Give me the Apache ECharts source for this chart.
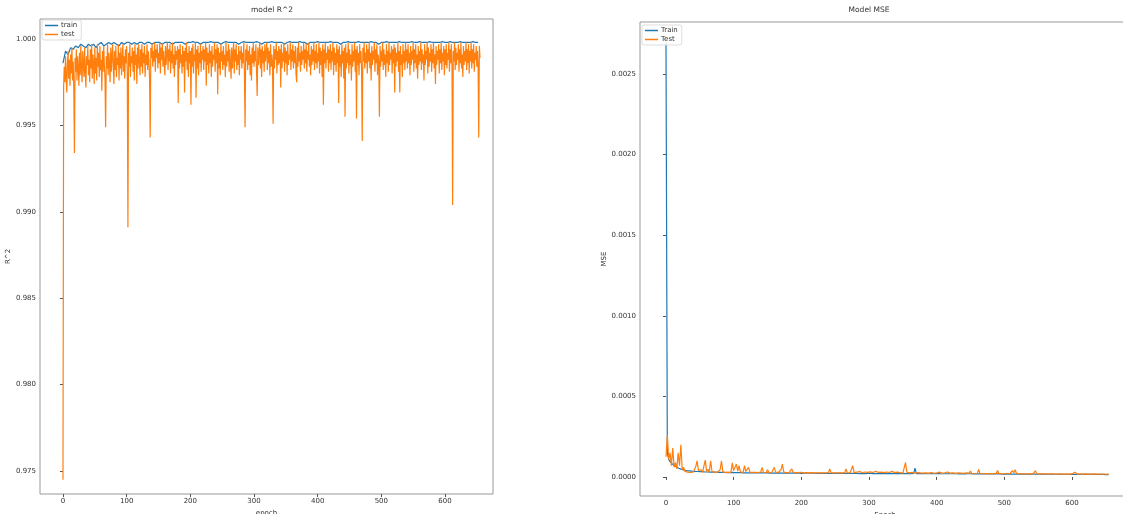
<!DOCTYPE html>
<html>
<head>
<meta charset="utf-8">
<script src="https://cdn.jsdelivr.net/npm/echarts@6/dist/echarts.min.js"></script>
<style>html,body{margin:0;padding:0;background:#fff}#c{width:1123px;height:514px}</style>
</head>
<body>
<div id="c"></div>
<script>
// ---- data ----
// test R^2, one value per epoch (0..655)
const testR2 = [
0.9745,0.9972,0.9984,0.9975,0.9990,0.9978,0.9969,0.9986,0.9993,0.9977,0.9988,0.9973,0.9991,0.9980,0.9995,0.9976,0.9987,0.9971,0.9934,0.9989,
0.9981,0.9994,0.9976,0.9990,0.9984,0.9973,0.9992,0.9979,0.9996,0.9982,0.9975,0.9993,0.9986,0.9978,0.9995,0.9981,0.9972,0.9990,0.9985,0.9996,
0.9979,0.9988,0.9975,0.9994,0.9983,0.9997,0.9977,0.9991,0.9986,0.9974,0.9995,0.9980,0.9989,0.9976,0.9997,0.9984,0.9992,0.9978,0.9996,0.9982,
0.9988,0.9970,0.9993,0.9981,0.9996,0.9985,0.9977,0.9949,0.9990,0.9983,0.9997,0.9979,0.9992,0.9986,0.9975,0.9995,0.9981,0.9990,0.9997,0.9984,
0.9974,0.9993,0.9982,0.9996,0.9978,0.9989,0.9985,0.9997,0.9976,0.9992,0.9983,0.9995,0.9979,0.9988,0.9997,0.9981,0.9990,0.9977,0.9994,0.9986,
0.9996,0.9980,0.9891,0.9992,0.9984,0.9997,0.9978,0.9990,0.9986,0.9995,0.9981,0.9993,0.9976,0.9997,0.9985,0.9991,0.9974,0.9995,0.9983,0.9997,
0.9987,0.9979,0.9994,0.9984,0.9997,0.9980,0.9992,0.9986,0.9996,0.9978,0.9991,0.9985,0.9997,0.9982,0.9993,0.9988,0.9977,0.9943,0.9995,0.9989,
0.9997,0.9984,0.9993,0.9987,0.9998,0.9981,0.9994,0.9989,0.9997,0.9983,0.9992,0.9986,0.9998,0.9980,0.9995,0.9988,0.9997,0.9984,0.9993,0.9986,
0.9979,0.9996,0.9985,0.9992,0.9998,0.9982,0.9994,0.9987,0.9997,0.9980,0.9993,0.9986,0.9998,0.9983,0.9991,0.9978,0.9996,0.9985,0.9993,0.9988,
0.9996,0.9963,0.9994,0.9983,0.9997,0.9986,0.9991,0.9980,0.9996,0.9984,0.9993,0.9969,0.9995,0.9987,0.9998,0.9982,0.9992,0.9978,0.9996,0.9986,
0.9993,0.9962,0.9995,0.9984,0.9997,0.9980,0.9991,0.9987,0.9998,0.9966,0.9994,0.9983,0.9996,0.9979,0.9992,0.9986,0.9997,0.9981,0.9993,0.9988,
0.9996,0.9982,0.9994,0.9987,0.9998,0.9973,0.9995,0.9985,0.9992,0.9980,0.9997,0.9986,0.9993,0.9978,0.9996,0.9984,0.9991,0.9988,0.9998,0.9981,
0.9994,0.9986,0.9997,0.9968,0.9995,0.9983,0.9992,0.9979,0.9997,0.9987,0.9993,0.9982,0.9996,0.9985,0.9991,0.9978,0.9998,0.9984,0.9993,0.9987,
0.9997,0.9981,0.9994,0.9986,0.9977,0.9995,0.9983,0.9992,0.9998,0.9980,0.9994,0.9987,0.9997,0.9982,0.9991,0.9985,0.9996,0.9979,0.9993,0.9988,
0.9996,0.9983,0.9992,0.9986,0.9998,0.9980,0.9949,0.9994,0.9987,0.9997,0.9982,0.9993,0.9985,0.9996,0.9979,0.9991,0.9976,0.9995,0.9986,0.9998,
0.9984,0.9993,0.9987,0.9997,0.9981,0.9967,0.9995,0.9985,0.9992,0.9998,0.9983,0.9994,0.9978,0.9996,0.9986,0.9993,0.9981,0.9997,0.9987,0.9992,
0.9998,0.9982,0.9995,0.9986,0.9993,0.9979,0.9997,0.9984,0.9991,0.9987,0.9951,0.9996,0.9983,0.9994,0.9988,0.9998,0.9980,0.9993,0.9985,0.9996,
0.9986,0.9994,0.9972,0.9997,0.9983,0.9992,0.9987,0.9998,0.9981,0.9995,0.9986,0.9993,0.9979,0.9997,0.9985,0.9991,0.9988,0.9998,0.9982,0.9994,
0.9987,0.9997,0.9983,0.9993,0.9986,0.9996,0.9980,0.9975,0.9995,0.9984,0.9998,0.9987,0.9992,0.9981,0.9996,0.9985,0.9993,0.9988,0.9998,0.9983,
0.9994,0.9986,0.9997,0.9981,0.9993,0.9988,0.9998,0.9984,0.9991,0.9979,0.9996,0.9985,0.9994,0.9987,0.9998,0.9982,0.9993,0.9986,0.9997,0.9983,
0.9992,0.9987,0.9998,0.9980,0.9995,0.9985,0.9993,0.9978,0.9997,0.9962,0.9994,0.9986,0.9998,0.9983,0.9992,0.9988,0.9996,0.9981,0.9994,0.9986,
0.9997,0.9982,0.9993,0.9987,0.9998,0.9979,0.9995,0.9985,0.9992,0.9981,0.9997,0.9986,0.9994,0.9963,0.9996,0.9984,0.9991,0.9978,0.9997,0.9986,
0.9993,0.9977,0.9995,0.9955,0.9997,0.9983,0.9992,0.9986,0.9998,0.9980,0.9994,0.9985,0.9991,0.9976,0.9997,0.9984,0.9993,0.9987,0.9998,0.9981,
0.9994,0.9954,0.9996,0.9985,0.9992,0.9979,0.9997,0.9986,0.9993,0.9982,0.9941,0.9995,0.9987,0.9998,0.9983,0.9992,0.9986,0.9997,0.9980,0.9994,
0.9987,0.9998,0.9983,0.9992,0.9976,0.9996,0.9985,0.9993,0.9988,0.9998,0.9981,0.9994,0.9986,0.9997,0.9979,0.9991,0.9987,0.9955,0.9996,0.9984,
0.9993,0.9987,0.9998,0.9982,0.9994,0.9985,0.9991,0.9978,0.9997,0.9986,0.9993,0.9981,0.9998,0.9985,0.9992,0.9988,0.9996,0.9980,0.9994,0.9986,
0.9997,0.9969,0.9995,0.9984,0.9992,0.9987,0.9998,0.9981,0.9993,0.9969,0.9996,0.9985,0.9991,0.9978,0.9997,0.9986,0.9993,0.9982,0.9998,0.9987,
0.9994,0.9983,0.9997,0.9986,0.9992,0.9979,0.9996,0.9985,0.9993,0.9988,0.9998,0.9981,0.9994,0.9986,0.9997,0.9983,0.9991,0.9977,0.9996,0.9985,
0.9993,0.9987,0.9998,0.9982,0.9994,0.9986,0.9991,0.9976,0.9997,0.9985,0.9993,0.9988,0.9998,0.9980,0.9995,0.9984,0.9992,0.9987,0.9997,0.9981,
0.9994,0.9986,0.9998,0.9983,0.9991,0.9974,0.9996,0.9985,0.9993,0.9988,0.9997,0.9980,0.9994,0.9986,0.9998,0.9982,0.9992,0.9987,0.9996,0.9979,
0.9994,0.9985,0.9997,0.9983,0.9992,0.9988,0.9998,0.9981,0.9994,0.9986,0.9997,0.9984,0.9904,0.9993,0.9987,0.9998,0.9982,0.9995,0.9985,0.9992,
0.9988,0.9997,0.9981,0.9994,0.9986,0.9998,0.9983,0.9991,0.9978,0.9996,0.9985,0.9993,0.9987,0.9998,0.9982,0.9994,0.9986,0.9997,0.9980,0.9993,
0.9987,0.9998,0.9983,0.9994,0.9986,0.9997,0.9981,0.9992,0.9988,0.9996,0.9984,0.9993,0.9985,0.9943,0.9996,0.9989
];
const testR2Step = 1;

// train R^2, one value every 4 epochs (0..652)
const trainR2 = [
0.9986,0.9993,0.9991,0.9995,0.9994,0.9996,0.9995,0.9997,0.9996,0.9995,
0.9997,0.9996,0.9997,0.9995,0.9997,0.9998,0.9996,0.9997,0.9998,0.9997,
0.9998,0.9997,0.9996,0.9998,0.9997,0.9998,0.9998,0.9997,0.9998,0.9997,
0.9998,0.9998,0.9997,0.9998,0.9998,0.9997,0.9998,0.9998,0.9998,0.9997,
0.9998,0.9998,0.9998,0.9997,0.9998,0.9998,0.9998,0.9998,0.9997,0.9998,
0.9998,0.99985,0.9998,0.9998,0.9997,0.9998,0.9998,0.9998,0.99985,0.9998,
0.9998,0.9998,0.9997,0.9998,0.99985,0.9998,0.9998,0.9998,0.9998,0.9997,
0.9998,0.99985,0.9998,0.9998,0.9998,0.9998,0.99985,0.9998,0.9997,0.9998,
0.9998,0.9998,0.99985,0.9998,0.9998,0.9998,0.9998,0.9997,0.9998,0.99985,
0.9998,0.9998,0.9998,0.99985,0.9998,0.9998,0.9997,0.9998,0.9998,0.9998,
0.99985,0.9998,0.9998,0.9998,0.9998,0.99985,0.9998,0.9998,0.9998,0.9997,
0.9998,0.9998,0.99985,0.9998,0.9998,0.9998,0.99985,0.9998,0.9998,0.9998,
0.9998,0.99985,0.9998,0.9998,0.9997,0.9998,0.9998,0.99985,0.9998,0.9998,
0.9998,0.9998,0.99985,0.9998,0.9998,0.9998,0.9998,0.99985,0.9998,0.9998,
0.99985,0.9998,0.9998,0.9998,0.99985,0.9998,0.9998,0.9998,0.9998,0.99985,
0.9998,0.9998,0.99985,0.9998,0.9998,0.9998,0.99985,0.9998,0.9998,0.9998,
0.9998,0.99985,0.9998,0.9998
];
const trainR2Step = 4;

// train MSE, one value every 2 epochs (0..654)
const trainMSE = [
0.0027,0.00015,0.00011,0.000095,0.000085,0.000078,0.00007,0.000066,0.00006,0.000056,
0.000052,0.000049,0.000046,0.000044,0.000042,0.00004,0.000039,0.000038,0.000037,0.000036,
0.000035,0.000035,0.000034,0.000034,0.000033,0.000033,0.000032,0.000033,0.000032,0.000031,
0.000031,0.000031,0.00003,0.00003,0.000031,0.00003,0.000029,0.00003,0.000029,0.000029,
0.000029,0.000028,0.000029,0.000028,0.000028,0.000027,0.000028,0.000027,0.000027,0.000028,
0.000027,0.000027,0.000026,0.000027,0.000026,0.000027,0.000026,0.000026,0.000027,0.000026,
0.000026,0.000026,0.000025,0.000026,0.000026,0.000025,0.000026,0.000025,0.000025,0.000026,
0.000025,0.000025,0.000026,0.000025,0.000024,0.000025,0.000025,0.000024,0.000025,0.000024,
0.000025,0.000024,0.000024,0.000025,0.000024,0.000024,0.000025,0.000024,0.000024,0.000024,
0.000024,0.000024,0.000023,0.000024,0.000024,0.000024,0.000023,0.000024,0.000024,0.000023,
0.000024,0.000023,0.000023,0.000024,0.000023,0.000023,0.000023,0.000024,0.000023,0.000023,
0.000023,0.000022,0.000023,0.000023,0.000022,0.000023,0.000023,0.000022,0.000023,0.000022,
0.000023,0.000022,0.000022,0.000023,0.000022,0.000022,0.000023,0.000022,0.000022,0.000022,
0.000022,0.000023,0.000022,0.000022,0.000022,0.000022,0.000023,0.000022,0.000022,0.000022,
0.000022,0.000022,0.000022,0.000021,0.000022,0.000022,0.000022,0.000021,0.000022,0.000022,
0.000021,0.000022,0.000022,0.000021,0.000022,0.000021,0.000022,0.000021,0.000021,0.000022,
0.000021,0.000021,0.000022,0.000021,0.000021,0.000022,0.000021,0.000021,0.000021,0.000021,
0.000022,0.000021,0.000021,0.000021,0.000021,0.000022,0.000021,0.000021,0.000021,0.000021,
0.000021,0.000021,0.00002,0.000022,0.000055,0.000021,0.00002,0.000021,0.00002,0.000021,
0.00002,0.000021,0.00002,0.00002,0.000021,0.00002,0.00002,0.000021,0.00002,0.00002,
0.00002,0.000021,0.00002,0.00002,0.00002,0.00002,0.000021,0.00002,0.00002,0.00002,
0.00002,0.00002,0.00002,0.000021,0.00002,0.00002,0.00002,0.000019,0.00002,0.00002,
0.00002,0.000019,0.00002,0.00002,0.000019,0.00002,0.00002,0.000019,0.00002,0.000019,
0.000019,0.00002,0.000019,0.000019,0.000019,0.00002,0.000019,0.000019,0.000019,0.000019,
0.000019,0.000019,0.000018,0.000019,0.000019,0.000019,0.000018,0.000019,0.000019,0.000018,
0.000019,0.000018,0.000018,0.000019,0.000018,0.000018,0.000019,0.000018,0.000018,0.000018,
0.000018,0.000018,0.000019,0.000018,0.000018,0.000018,0.000018,0.000018,0.000017,0.000018,
0.000018,0.000018,0.000017,0.000018,0.000018,0.000017,0.000018,0.000018,0.000017,0.000018,
0.000017,0.000017,0.000018,0.000017,0.000017,0.000017,0.000018,0.000017,0.000017,0.000017,
0.000017,0.000017,0.000016,0.000017,0.000017,0.000017,0.000016,0.000017,0.000017,0.000016,
0.000017,0.000016,0.000016,0.000017,0.000016,0.000016,0.000017,0.000016,0.000016,0.000016,
0.000016,0.000016,0.000017,0.000016,0.000016,0.000016,0.000016,0.000016,0.000016,0.000016,
0.000016,0.000016,0.000015,0.000016,0.000016,0.000015,0.000016,0.000015
];
const trainMSEStep = 2;

// test MSE, one value every 2 epochs (0..654)
const testMSE = [
0.000125,0.00026,0.00011,0.00015,0.00007,0.00018,0.00006,0.00009,0.00005,0.00015,
0.00007,0.0002,0.000045,0.00006,0.000035,0.00004,0.00003,0.000038,0.000028,0.000035,
0.00003,0.000045,0.000065,0.0001,0.00004,0.000032,0.000045,0.000028,0.000036,0.000105,
0.000035,0.000048,0.00003,0.0001,0.000034,0.000042,0.00003,0.000038,0.000029,0.000036,
0.000045,0.0001,0.000032,0.000038,0.000028,0.000035,0.00003,0.000042,0.000029,0.000087,
0.00004,0.000033,0.00008,0.000036,0.00007,0.000031,0.000038,0.000029,0.00007,0.000034,
0.000045,0.00006,0.00003,0.000036,0.000028,0.000033,0.000029,0.000038,0.000027,0.000034,
0.000031,0.00006,0.000029,0.000036,0.000027,0.000045,0.000029,0.000033,0.000026,0.000038,
0.00006,0.00003,0.000036,0.000028,0.000034,0.000045,0.00008,0.00003,0.000036,0.000027,
0.000033,0.000029,0.000035,0.00005,0.000028,0.000033,0.000026,0.000031,0.000027,0.000035,
0.000028,0.000032,0.000026,0.000036,0.000027,0.000031,0.000025,0.000033,0.000027,0.000038,
0.000026,0.00003,0.000025,0.000032,0.000026,0.00003,0.000025,0.000034,0.000026,0.000029,
0.000027,0.00005,0.000026,0.00003,0.000025,0.000033,0.000026,0.000029,0.000025,0.000031,
0.000026,0.000029,0.000025,0.00005,0.000027,0.000031,0.000025,0.000028,0.00007,0.000027,
0.000025,0.00003,0.000024,0.000033,0.000025,0.000028,0.000024,0.000031,0.000025,0.000029,
0.000024,0.000032,0.000025,0.000028,0.000024,0.000036,0.000025,0.000028,0.000023,0.00003,
0.000024,0.000027,0.000023,0.000031,0.000024,0.000028,0.000023,0.000035,0.000024,0.000027,
0.000023,0.00003,0.000024,0.000027,0.000036,0.000023,0.000029,0.00009,0.000028,0.000024,
0.000026,0.000023,0.000028,0.000022,0.000024,0.000022,0.000027,0.000022,0.000025,0.000021,
0.000024,0.000022,0.000026,0.000021,0.000024,0.000022,0.000027,0.000021,0.000023,0.000022,
0.000025,0.000021,0.00003,0.000022,0.000024,0.000021,0.000026,0.000022,0.000031,0.000021,
0.000024,0.000021,0.000026,0.00002,0.000023,0.000021,0.000025,0.00002,0.000024,0.000021,
0.000023,0.00002,0.000026,0.000021,0.000024,0.000037,0.000022,0.000025,0.00002,0.000023,
0.000021,0.000047,0.000022,0.000025,0.00002,0.000023,0.000021,0.000026,0.00002,0.000024,
0.000021,0.000023,0.00002,0.000025,0.000021,0.00004,0.00002,0.000023,0.000021,0.000024,
0.00002,0.000023,0.000021,0.000025,0.00002,0.000022,0.00004,0.000026,0.000045,0.000021,
0.000024,0.00002,0.000022,0.000019,0.000023,0.00002,0.000022,0.000019,0.000024,0.00002,
0.000022,0.000019,0.000023,0.000038,0.000021,0.000024,0.000019,0.000022,0.00002,0.000023,
0.000019,0.000022,0.00002,0.000021,0.000019,0.000023,0.00002,0.000021,0.000018,0.000022,
0.00002,0.000021,0.000019,0.000022,0.000018,0.000021,0.000019,0.000022,0.000018,0.000021,
0.000019,0.000022,0.00003,0.00002,0.000018,0.000021,0.000019,0.000022,0.000018,0.00002,
0.000019,0.000021,0.000018,0.00002,0.000018,0.000021,0.000019,0.00002,0.000018,0.000019,
0.000018,0.00002,0.000017,0.000019,0.000018,0.00002,0.000017,0.000019
];
const testMSEStep = 2;

// tick labels
const epochTicks = [0, 100, 200, 300, 400, 500, 600];
const r2Ticks = [0.975, 0.980, 0.985, 0.990, 0.995, 1.000];
const mseTicks = [0.0000, 0.0005, 0.0010, 0.0015, 0.0020, 0.0025];

// ---- chart ----
const toPairs = (vals, step) => vals.map((v, i) => [i * step, v]);
const FONT = 'DejaVu Sans';
const TXT = '#333';
const C_TRAIN = '#1f77b4', C_TEST = '#ff7f0e';

function xAxis(gridIndex, min, max, name, gap) {
  return {
    type: 'value', gridIndex, min, max, name,
    nameLocation: 'middle', nameGap: gap,
    nameTextStyle: { fontFamily: FONT, fontSize: 7, color: TXT },
    axisLine: { show: false },
    splitLine: { show: false },
    axisTick: { show: true, customValues: epochTicks, length: 3, lineStyle: { color: '#555' } },
    axisLabel: { customValues: epochTicks, fontFamily: FONT, fontSize: 7, color: TXT, margin: 4 }
  };
}
function yAxis(gridIndex, min, max, name, ticks, dec, gap) {
  return {
    type: 'value', gridIndex, min, max, name,
    nameLocation: 'middle', nameGap: gap, nameRotate: 90,
    nameTextStyle: { fontFamily: FONT, fontSize: 7, color: TXT },
    axisLine: { show: false },
    splitLine: { show: false },
    axisTick: { show: true, customValues: ticks, length: 3, lineStyle: { color: '#555' } },
    axisLabel: { customValues: ticks, fontFamily: FONT, fontSize: 7, color: TXT, margin: 4,
      formatter: v => Number(v).toFixed(dec) }
  };
}
function legend(left, top, names) {
  return {
    data: names, orient: 'vertical', left, top,
    icon: 'rect', itemWidth: 13, itemHeight: 1.5, itemGap: 2,
    padding: [2, 4, 2, 3], borderColor: '#ddd', borderWidth: 1, borderRadius: 2,
    backgroundColor: 'rgba(255,255,255,0.85)',
    textStyle: { fontFamily: FONT, fontSize: 7, color: TXT, padding: [0, 0, 0, -2] }
  };
}
function line(name, data, color, xi, yi) {
  return {
    name, type: 'line', data, xAxisIndex: xi, yAxisIndex: yi,
    showSymbol: false, symbol: 'none', smooth: false, sampling: null,
    lineStyle: { color, width: 1.2 }, itemStyle: { color },
    emphasis: { disabled: true }, clip: true
  };
}

const chart = echarts.init(document.getElementById('c'), null, { renderer: 'canvas' });
chart.setOption({
  animation: false,
  backgroundColor: '#fff',
  title: [
    { text: 'model R^2', left: 267, top: 1, textAlign: 'center',
      textStyle: { fontFamily: FONT, fontSize: 7.5, fontWeight: 'normal', color: TXT } },
    { text: 'Model MSE', left: 864, top: 1, textAlign: 'center',
      textStyle: { fontFamily: FONT, fontSize: 7.5, fontWeight: 'normal', color: TXT } }
  ],
  grid: [
    { left: 40, top: 19, width: 453, height: 475, show: true, borderColor: '#999', borderWidth: 1,
      backgroundColor: 'transparent', outerBoundsMode: 'none', containLabel: false },
    { left: 640, top: 22, width: 490, height: 474, show: true, borderColor: '#999', borderWidth: 1,
      backgroundColor: 'transparent', outerBoundsMode: 'none', containLabel: false }
  ],
  xAxis: [ xAxis(0, -36.1, 675.4, 'epoch', 10), xAxis(1, -38.4, 685.7, 'Epoch', 12) ],
  yAxis: [
    yAxis(0, 0.97367, 1.001157, 'R^2', r2Ticks, 3, 22),
    yAxis(1, -0.000118, 0.002823, 'MSE', mseTicks, 4, 30)
  ],
  legend: [ legend(42, 20, ['train', 'test']), legend(642, 25, ['Train', 'Test']) ],
  series: [
    line('train', toPairs(trainR2, trainR2Step), C_TRAIN, 0, 0),
    line('test', toPairs(testR2, testR2Step), C_TEST, 0, 0),
    line('Train', toPairs(trainMSE, trainMSEStep), C_TRAIN, 1, 1),
    line('Test', toPairs(testMSE, testMSEStep), C_TEST, 1, 1)
  ]
});
</script>
</body>
</html>
